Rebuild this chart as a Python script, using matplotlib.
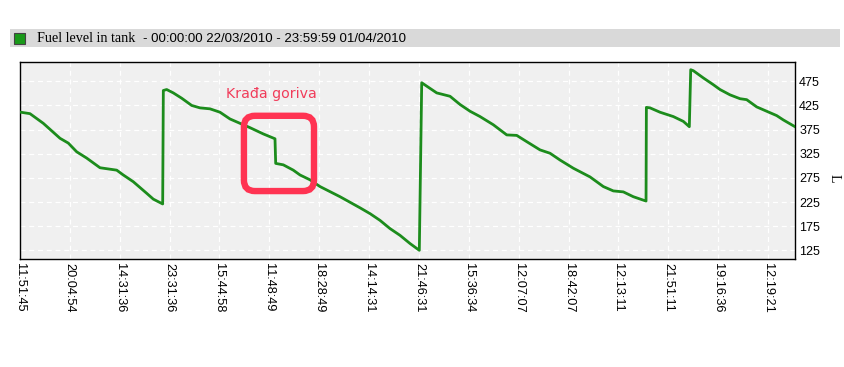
import matplotlib
matplotlib.use("Agg")
import matplotlib.pyplot as plt
import numpy as np
from matplotlib.patches import FancyBboxPatch, Rectangle
from matplotlib.transforms import IdentityTransform

# x is measured in tick intervals (sample positions of the tracker export)
pos = [0.014, 0.20, 0.467, 0.802, 0.969, 1.137, 1.337, 1.604, 1.939, 2.071, 2.272, 2.541,
       2.673, 2.861, 2.874, 2.941, 3.074, 3.242, 3.443, 3.609, 3.810, 4.010, 4.211, 4.411,
       4.612, 4.879, 5.113, 5.127, 5.280, 5.480, 5.615, 5.815, 6.016, 6.417, 6.818, 7.018,
       7.219, 7.419, 7.620, 7.821, 8.007, 8.055, 8.155, 8.356, 8.623, 8.823, 9.024, 9.224,
       9.491, 9.760, 9.960, 10.161, 10.427, 10.628, 10.828, 11.095, 11.430, 11.697, 11.897,
       12.098, 12.298, 12.553, 12.560, 12.633, 12.833, 13.100, 13.301, 13.421, 13.449,
       13.501, 13.702, 13.902, 14.036, 14.236, 14.437, 14.571, 14.772, 14.972, 15.173,
       15.306, 15.540]
fuel = [411, 408, 388, 357, 347, 329, 316, 296, 291, 281, 267, 243,
        231, 221, 456, 458, 451, 440, 425, 420, 418, 411, 397, 388,
        379, 366, 356, 305, 302, 291, 281, 271, 257, 236, 213, 201,
        187, 170, 156, 139, 125, 472, 465, 451, 444, 427, 413, 402,
        385, 364, 363, 350, 333, 326, 312, 295, 277, 257, 248,
        246, 236, 227, 421, 420, 411, 402, 392, 381, 499,
        497, 482, 468, 458, 447, 439, 437, 422, 413, 404,
        395, 381]

tick_labels = ["11:51:45", "20:04:54", "14:31:36", "23:31:36", "15:44:58", "11:48:49",
               "18:28:49", "14:14:31", "21:46:31", "15:36:34", "12:07:07", "18:42:07",
               "12:13:11", "21:51:11", "19:16:36", "12:19:21"]
y_ticks = [125, 175, 225, 275, 325, 375, 425, 475]

W, H = 844, 367
fig = plt.figure(figsize=(W / 100, H / 100), dpi=100)
fig.patch.set_facecolor("white")

# header bar with legend
fig.patches.append(Rectangle((10 / W, 1 - 47 / H), 830 / W, 18 / H, transform=fig.transFigure,
                             facecolor="#d9d9d9", edgecolor="none"))
fig.patches.append(Rectangle((14 / W, 1 - 44 / H), 11 / W, 11 / H, transform=fig.transFigure,
                             facecolor="#1a9a1a", edgecolor="#444444", lw=0.8))
fig.text(37 / W, 1 - 38.5 / H, "Fuel level in tank", family="Liberation Serif", fontsize=10.2,
         va="center", ha="left")
fig.text(143 / W, 1 - 38.5 / H, "- 00:00:00 22/03/2010 - 23:59:59 01/04/2010",
         family="Liberation Sans", fontsize=9.5, va="center", ha="left")

ax = fig.add_axes([20 / W, 1 - 259 / H, 775 / W, 197 / H])
ax.set_facecolor("#f0f0f0")
ax.plot(pos, fuel, color="#1c8c1c", lw=2.0, zorder=3)
ax.set_xlim(0, 15.54)
ax.set_ylim(107, 515)

ax.set_xticks(np.arange(len(tick_labels)))
ax.set_xticklabels(tick_labels, rotation=270, family="Liberation Sans", fontsize=9.2)
ax.yaxis.tick_right()
ax.set_yticks(y_ticks)
ax.set_yticklabels([str(v) for v in y_ticks], family="Liberation Sans", fontsize=9)
ax.tick_params(length=0, pad=3)
ax.grid(True, color="white", ls=(0, (4, 3)), lw=0.9)
for sp in ax.spines.values():
    sp.set_linewidth(1.0)
    sp.set_color("black")
fig.text(834 / W, 1 - 178 / H, "L", rotation=270, family="Liberation Serif", fontsize=10,
         ha="center", va="center")

# annotation of the fuel theft
ax.text(5.05, 449, "Krađa goriva", color="#f03c5a", fontsize=10.2, family="DejaVu Sans",
        ha="center", va="center")
fig.canvas.draw()
(x0, y0), (x1, y1) = ax.transData.transform([(4.49, 247.7), (5.895, 403.6)])
box = FancyBboxPatch((x0, y0), x1 - x0, y1 - y0, boxstyle="round,pad=0,rounding_size=11",
                     transform=IdentityTransform(), facecolor="none", edgecolor="#ff3352",
                     lw=4.6, zorder=4)
fig.patches.append(box)

fig.savefig("out.png", dpi=100)
